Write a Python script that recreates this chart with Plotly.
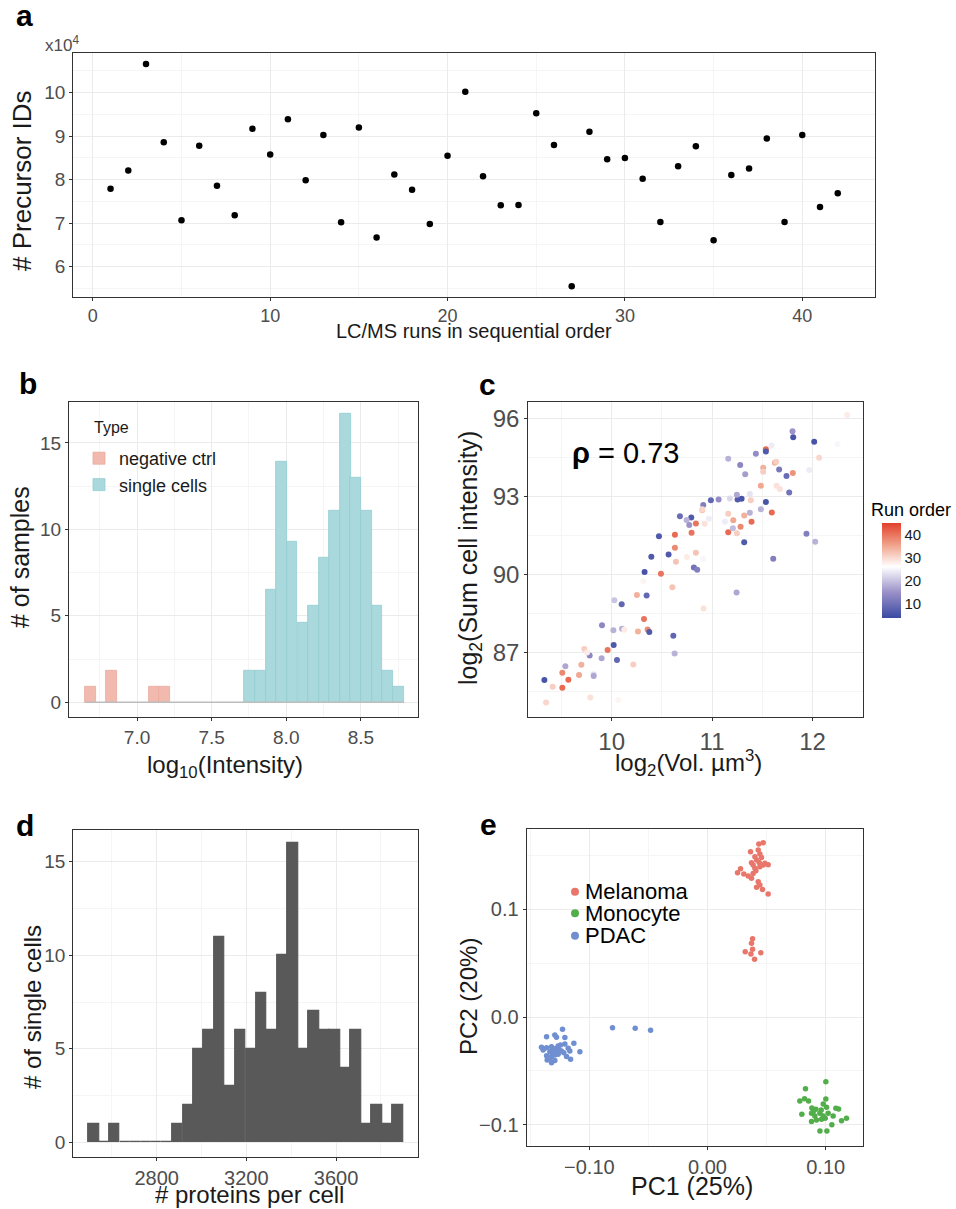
import plotly.graph_objects as go

W, H = 956, 1209
FONT = "Liberation Sans, Arial, Helvetica, sans-serif"

# ---------------- Panel a data ----------------
run_number = [1, 2, 3, 4, 5, 6, 7, 8, 9, 10, 11, 12, 13, 14, 15, 16, 17, 18, 19, 20, 21,
              22, 23, 24, 25, 26, 27, 28, 29, 30, 31, 32, 33, 34, 35, 36, 37, 38, 39, 40, 41, 42]
precursor_ids_x1e4 = [7.79, 8.21, 10.66, 8.86, 7.07, 8.78, 7.86, 7.18, 9.17, 8.58,
                      9.39, 7.99, 9.03, 7.02, 9.20, 6.67, 8.12, 7.77, 6.98, 8.55,
                      10.02, 8.08, 7.41, 7.42, 9.53, 8.80, 5.55, 9.10, 8.47, 8.50,
                      8.02, 7.03, 8.31, 8.77, 6.61, 8.11, 8.26, 8.95, 7.03, 9.03,
                      7.37, 7.69]

# ---------------- Panel b data ----------------
bin_width_b = 0.0712
negctrl_bins = [6.687, 6.829, 7.114, 7.185]
negctrl_counts = [0.93, 1.85, 0.93, 0.93]
single_bins = [7.755, 7.826, 7.897, 7.968, 8.039, 8.111, 8.182, 8.253, 8.324, 8.395,
               8.466, 8.538, 8.609, 8.680, 8.751]
single_counts = [1.85, 1.85, 6.5, 13.9, 9.27, 4.63, 5.56, 8.34, 11.1, 16.7,
                 13.0, 11.1, 5.56, 1.85, 0.93]
hist_b_span = [6.651, 8.787]

# ---------------- Panel c data ----------------
vol_log2 = [12.345, 11.801, 11.808, 12.017, 12.066, 11.967, 11.592, 11.536, 11.536, 11.436,
            11.161, 11.280, 11.330, 11.509, 11.509, 11.625, 11.638, 11.668, 11.741, 11.804,
            11.768, 11.486, 11.642, 11.675, 11.536, 11.486, 11.595, 11.386, 11.376, 11.294,
            11.254, 11.247, 11.177, 11.065, 10.988, 10.912, 10.968, 10.902, 10.925, 10.839,
            10.793, 10.746, 10.773, 10.796, 10.680, 10.630, 10.630, 10.471, 10.567, 10.395,
            10.640, 10.750, 10.839, 10.912, 10.819, 10.852, 10.328, 10.491, 10.315, 10.604,
            10.252, 10.348, 10.100, 10.027, 10.915, 11.244, 11.609, 11.940, 12.027, 11.320,
            11.161, 11.247, 11.284, 11.207, 11.211, 11.161, 11.393, 11.320, 11.376, 11.128,
            10.322, 9.904, 10.017, 10.103, 10.126, 10.262, 10.358, 10.375, 10.614, 10.627,
            10.020, 9.960, 10.053, 9.900, 9.781, 9.728, 9.755, 9.698, 9.539, 9.509,
            9.675, 9.821, 9.821, 9.569, 9.330, 9.413, 9.509, 9.788, 9.347, 10.066,
            10.216, 10.902, 12.249]
sum_int_log2 = [96.13, 95.50, 95.27, 95.10, 94.49, 94.01, 94.96, 94.81, 94.73, 94.64,
                94.45, 94.21, 93.85, 94.10, 93.95, 94.29, 94.33, 94.03, 93.78, 93.90,
                93.15, 93.41, 93.41, 93.28, 92.78, 92.51, 92.38, 92.85, 93.09, 92.91,
                92.88, 93.06, 92.92, 92.88, 92.85, 92.67, 92.14, 92.47, 91.95, 91.96,
                92.19, 92.09, 91.90, 91.60, 92.24, 91.53, 91.03, 91.47, 90.77, 90.68,
                90.49, 90.67, 90.83, 90.59, 90.27, 90.18, 90.09, 90.03, 89.74, 89.51,
                89.21, 89.19, 88.85, 89.01, 88.69, 89.31, 90.60, 91.56, 91.26, 91.24,
                91.62, 91.58, 91.83, 91.78, 92.08, 92.33, 92.03, 92.27, 92.37, 92.03,
                88.29, 88.05, 87.85, 87.91, 87.87, 87.81, 87.88, 87.79, 87.64, 86.96,
                87.29, 87.10, 86.71, 86.78, 86.88, 87.13, 87.00, 86.53, 86.47, 86.22,
                86.13, 86.15, 86.10, 85.95, 85.94, 85.68, 85.64, 85.27, 85.08, 85.17,
                86.54, 92.51, 95.00]
run_order = [28, 15, 5, 5, 30, 24, 24, 41, 6, 14,
             18, 13, 16, 34, 31, 34, 31, 11, 9, 37,
             10, 35, 29, 29, 5, 18, 41, 31, 23, 5,
             6, 17, 22, 14, 8, 12, 24, 32, 29, 40,
             6, 18, 15, 40, 9, 41, 38, 6, 6, 6,
             32, 28, 32, 25, 10, 12, 5, 40, 27, 32,
             34, 8, 8, 20, 29, 17, 12, 12, 18, 6,
             41, 31, 38, 19, 35, 31, 41, 34, 18, 24,
             40, 13, 18, 18, 28, 34, 38, 6, 8, 18,
             6, 40, 8, 17, 13, 31, 28, 34, 17, 38,
             35, 22, 17, 41, 5, 31, 41, 29, 30, 27,
             31, 30, 25]

# ---------------- Panel d data ----------------
protein_bins = [2519, 2565, 2612, 2659, 2706, 2753, 2799, 2846, 2893, 2940,
                2987, 3033, 3080, 3127, 3174, 3221, 3267, 3314, 3361, 3408,
                3455, 3501, 3548, 3595, 3642, 3689, 3735, 3782, 3829, 3876]
protein_counts = [1, 0, 1, 0, 0, 0, 0, 0, 1, 2,
                  5, 6, 11, 3, 6, 5, 8, 6, 10, 16,
                  5, 7, 6, 6, 4, 6, 1, 2, 1, 2]
bin_width_d = 46.8

# ---------------- Panel e data ----------------
cell_types = ["Melanoma", "Monocyte", "PDAC"]
type_colors = ["#E9766B", "#52AE4A", "#6F8FD0"]
mel_pc1 = [0.0471, 0.0434, 0.0364, 0.0429, 0.0443, 0.0401, 0.0457, 0.0415, 0.0372, 0.0437,
           0.0513, 0.0471, 0.0279, 0.0254, 0.0307, 0.0344, 0.0386, 0.0409, 0.0372, 0.0429,
           0.0443, 0.0415, 0.0465, 0.0513, 0.0401, 0.0443, 0.0485, 0.0386,
           0.0381, 0.0372, 0.0381, 0.0319, 0.0451, 0.0367, 0.0398]
mel_pc2 = [0.1614, 0.1602, 0.1531, 0.1546, 0.1509, 0.1485, 0.1478, 0.1454, 0.1429, 0.1432,
           0.1410, 0.1407, 0.1373, 0.1336, 0.1324, 0.1306, 0.1330, 0.1355, 0.1284, 0.1253,
           0.1222, 0.1201, 0.1182, 0.1139, 0.1377, 0.1392, 0.1423, 0.1407,
           0.0725, 0.0682, 0.0627, 0.0605, 0.0596, 0.0583, 0.0534]
mono_pc1 = [0.1001, 0.0829, 0.0781, 0.0821, 0.0855, 0.1001, 0.0883, 0.0917, 0.0979, 0.1007,
            0.0962, 0.1086, 0.1109, 0.0798, 0.0880, 0.0908, 0.0951, 0.0979, 0.1021, 0.0996,
            0.1176, 0.1134, 0.1052, 0.0880, 0.0951, 0.1010, 0.1063, 0.0922, 0.0965, 0.0894]
mono_pc2 = [-0.0599, -0.0664, -0.0778, -0.0756, -0.0778, -0.0759, -0.0843, -0.0855, -0.0806, -0.0836,
            -0.0861, -0.0846, -0.0852, -0.0901, -0.0892, -0.0917, -0.0892, -0.0917, -0.0892, -0.0938,
            -0.0938, -0.0960, -0.0997, -0.0969, -0.1056, -0.1056, -0.0917, -0.0954, -0.0948, -0.0877]
pdac_pc1 = [-0.1227, -0.1362, -0.1292, -0.1278, -0.1207, -0.1131, -0.1207, -0.1405, -0.1362, -0.1320,
            -0.1292, -0.1264, -0.1244, -0.1179, -0.1334, -0.1306, -0.1278, -0.1255, -0.1236, -0.1216,
            -0.1080, -0.1165, -0.1362, -0.1320, -0.1292, -0.1264, -0.1193, -0.1159, -0.1357, -0.1320,
            -0.1292, -0.1334, -0.1391, -0.1312, -0.0804, -0.0612, -0.0482]
pdac_pc2 = [-0.0114, -0.0182, -0.0167, -0.0188, -0.0191, -0.0244, -0.0250, -0.0281, -0.0284, -0.0275,
            -0.0293, -0.0269, -0.0259, -0.0290, -0.0321, -0.0327, -0.0321, -0.0306, -0.0315, -0.0330,
            -0.0321, -0.0315, -0.0358, -0.0367, -0.0352, -0.0346, -0.0367, -0.0392, -0.0398, -0.0423,
            -0.0404, -0.0383, -0.0306, -0.0299, -0.0099, -0.0105, -0.0123]


def fx(p):
    return p / W


def fy(p):
    return 1 - p / H


fig = go.Figure()

# a
fig.add_trace(go.Scatter(x=run_number, y=precursor_ids_x1e4, mode="markers",
                         marker=dict(color="black", size=6.5), showlegend=False,
                         xaxis="x", yaxis="y"))
# b
fig.add_trace(go.Scatter(x=hist_b_span, y=[0, 0], mode="lines",
                         line=dict(color="#BDBDBD", width=1.6), showlegend=False,
                         xaxis="x2", yaxis="y2", hoverinfo="skip"))
fig.add_trace(go.Bar(x=negctrl_bins, y=negctrl_counts, width=bin_width_b, name="negative ctrl",
                     marker=dict(color="#F2B9AE", line=dict(color="#E9A99C", width=0.8)),
                     xaxis="x2", yaxis="y2", legend="legend"))
fig.add_trace(go.Bar(x=single_bins, y=single_counts, width=bin_width_b, name="single cells",
                     marker=dict(color="#A9D9DC", line=dict(color="#94CDD1", width=0.8)),
                     xaxis="x2", yaxis="y2", legend="legend"))
# c
fig.add_trace(go.Scatter(
    x=vol_log2, y=sum_int_log2, mode="markers", showlegend=False, xaxis="x3", yaxis="y3",
    marker=dict(size=6, color=run_order, cmin=3.4, cmax=45.1,
                colorscale=[[0, "#3A4AA2"], [0.27, "#9A90C8"], [0.54, "#FFFFFF"],
                            [0.77, "#F0A28A"], [1, "#E2402A"]],
                showscale=True,
                colorbar=dict(x=fx(882), xanchor="left", y=fy(570.8), yanchor="middle",
                              thickness=19, thicknessmode="pixels", len=95, lenmode="pixels",
                              xpad=0, ypad=0, outlinewidth=0, ticks="",
                              tickmode="array", tickvals=[10, 20, 30, 40],
                              tickfont=dict(size=15, color="#1A1A1A", family=FONT)))))
# d
fig.add_trace(go.Bar(x=protein_bins, y=protein_counts, width=bin_width_d,
                     marker=dict(color="#595959", line=dict(color="#595959", width=1.2)),
                     showlegend=False, xaxis="x4", yaxis="y4"))
# e
for name, col, xs, ys in zip(cell_types, type_colors, [mel_pc1, mono_pc1, pdac_pc1],
                             [mel_pc2, mono_pc2, pdac_pc2]):
    fig.add_trace(go.Scatter(x=xs, y=ys, mode="markers", name=name,
                             marker=dict(color=col, size=5.5), showlegend=False,
                             xaxis="x5", yaxis="y5"))


def ax(domain, rng, tickvals, ticktext, minor_vals, fsize, anchor):
    return dict(domain=domain, range=rng, tickmode="array", tickvals=tickvals, ticktext=ticktext,
                showline=True, mirror=True, linecolor="#333333", linewidth=1.2,
                ticks="outside", ticklen=3, tickwidth=1, tickcolor="#333333",
                showgrid=True, gridcolor="#EBEBEB", gridwidth=1, zeroline=False,
                tickfont=dict(size=fsize, color="#4D4D4D", family=FONT),
                minor=dict(tickmode="array", tickvals=minor_vals, showgrid=True,
                           gridcolor="#F5F5F5", gridwidth=1, ticks=""),
                anchor=anchor, fixedrange=True)


layout = dict(
    width=W, height=H, margin=dict(l=0, r=0, t=0, b=0),
    paper_bgcolor="white", plot_bgcolor="white",
    font=dict(family=FONT, color="#1A1A1A"),
    barmode="overlay", bargap=0,
    xaxis=ax([fx(73.3), fx(875)], [-1.1, 44.1], [0, 10, 20, 30, 40], ["0", "10", "20", "30", "40"],
             [5, 15, 25, 35], 18, "y"),
    yaxis=ax([fy(296.7), fy(52.7)], [5.31, 10.92], [6, 7, 8, 9, 10], ["6", "7", "8", "9", "10"],
             [5.5, 6.5, 7.5, 8.5, 9.5, 10.5], 19, "x"),
    xaxis2=ax([fx(69), fx(418.3)], [6.544, 8.885], [7.0, 7.5, 8.0, 8.5], ["7.0", "7.5", "8.0", "8.5"],
              [6.75, 7.25, 7.75, 8.25, 8.75], 19, "y2"),
    yaxis2=ax([fy(717), fy(401.7)], [-0.85, 17.38], [0, 5, 10, 15], ["0", "5", "10", "15"],
              [2.5, 7.5, 12.5], 19, "x2"),
    xaxis3=ax([fx(528.3), fx(862.7)], [9.17, 12.50], [10, 11, 12], ["10", "11", "12"],
              [9.5, 10.5, 11.5, 12.5], 24, "y3"),
    yaxis3=ax([fy(717), fy(401.7)], [84.52, 96.64], [87, 90, 93, 96], ["87", "90", "93", "96"],
              [85.5, 88.5, 91.5, 94.5], 24, "x3"),
    xaxis4=ax([fx(73.3), fx(418.3)], [2428, 3967], [2800, 3200, 3600], ["2800", "3200", "3600"],
              [2600, 3000, 3400, 3800], 20, "y4"),
    yaxis4=ax([fy(1156.7), fy(830)], [-0.77, 16.7], [0, 5, 10, 15], ["0", "5", "10", "15"],
              [2.5, 7.5, 12.5], 19, "x4"),
    xaxis5=ax([fx(526.7), fx(862.7)], [-0.153, 0.1313], [-0.1, 0.0, 0.1], ["\u22120.10", "0.00", "0.10"],
              [-0.15, -0.05, 0.05], 20, "y5"),
    yaxis5=ax([fy(1145.7), fy(828.7)], [-0.1192, 0.1744], [-0.1, 0.0, 0.1], ["\u22120.1", "0.0", "0.1"],
              [-0.05, 0.05, 0.15], 20, "x5"),
    legend=dict(x=fx(79), y=fy(440), xanchor="left", yanchor="top",
                bgcolor="rgba(0,0,0,0)", borderwidth=0,
                font=dict(size=18, color="#1A1A1A", family=FONT), tracegroupgap=0,
                traceorder="normal"),
)
fig.update_layout(**layout)

ann = []


def text(x, y, s, size, color="#1A1A1A", xanchor="center", angle=0, bold=False):
    ann.append(dict(x=fx(x), y=fy(y), xref="paper", yref="paper", text=(f"<b>{s}</b>" if bold else s),
                    showarrow=False, xanchor=xanchor, yanchor="middle", textangle=angle,
                    font=dict(size=size, color=color, family=FONT)))


# panel letters
text(24, 15.5, "a", 30, "black", bold=True)
text(28, 383, "b", 30, "black", bold=True)
text(487, 384, "c", 30, "black", bold=True)
text(25, 825, "d", 30, "black", bold=True)
text(488, 824, "e", 30, "black", bold=True)

# axis titles
text(43, 44, "x10<sup>4</sup>", 17, "#4D4D4D", xanchor="left")
text(474, 331, "LC/MS runs in sequential order", 20)
text(22, 181, "# Precursor IDs", 26, angle=-90)
text(20, 557, "# of samples", 25, angle=-90)
text(225, 766, "log<sub>10</sub>(Intensity)", 24)
text(470, 558, "log<sub>2</sub>(Sum cell intensity)", 25, angle=-90)
text(688, 763, "log<sub>2</sub>(Vol. \u00b5m<sup>3</sup>)", 24)
text(32, 1007, "# of single cells", 24, angle=-90)
text(249, 1194, "# proteins per cell", 24)
text(468, 997, "PC2 (20%)", 24, angle=-90)
text(692, 1186, "PC1 (25%)", 25)

# legend title (panel b), rho and colorbar title (panel c)
text(92, 427, "Type", 16, "#1A1A1A", xanchor="left")
text(570, 453, "<b>\u03c1</b> = 0.73", 29, "black", xanchor="left")
text(869, 510, "Run order", 18, "black", xanchor="left")

# panel e legend
shapes = []
for name, col, yy in zip(cell_types, type_colors, [891.7, 913.3, 935.7]):
    shapes.append(dict(type="circle", xref="paper", yref="paper",
                       x0=fx(571), x1=fx(579), y0=fy(yy + 4), y1=fy(yy - 4),
                       fillcolor=col, line=dict(width=0)))
    text(583, yy, name, 22, "black", xanchor="left")

fig.update_layout(annotations=ann, shapes=shapes)
fig.write_html("out.html", config={"displayModeBar": False},
               post_script="document.body.style.margin='0';document.body.style.overflow='hidden';")
